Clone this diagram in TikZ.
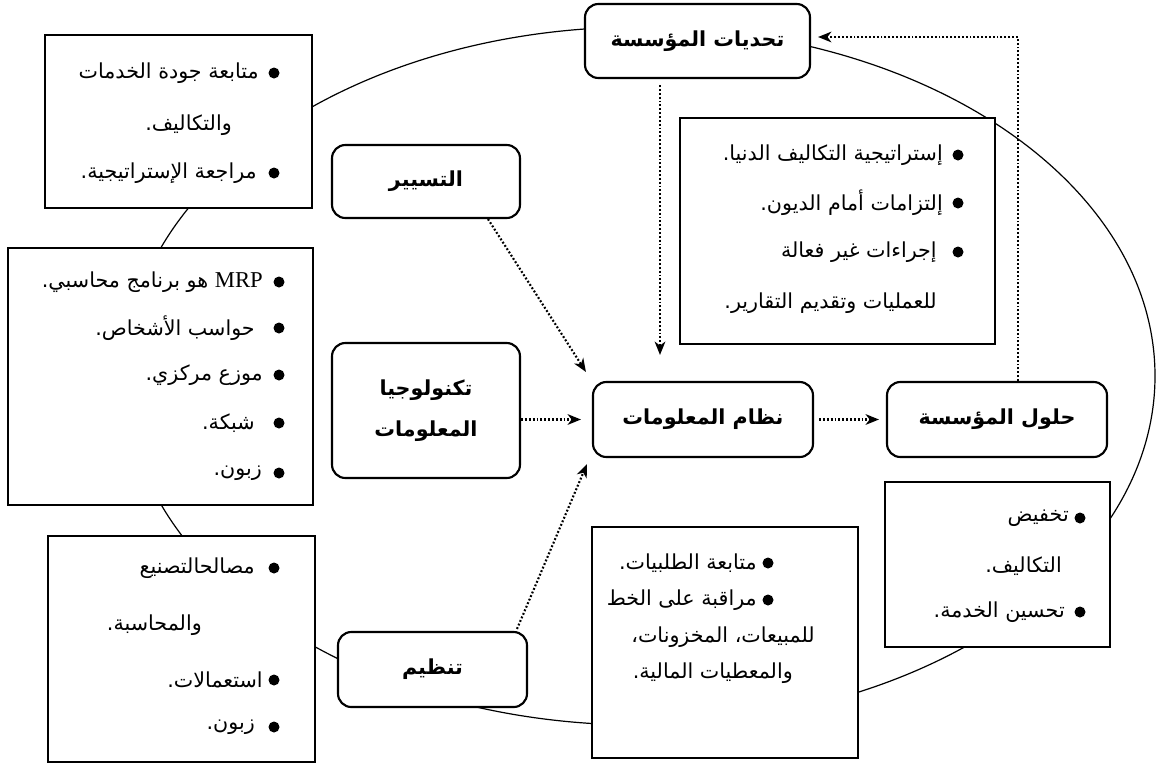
\documentclass[tikz,border=0pt]{standalone}
\usepackage{fontspec}
\usetikzlibrary{arrows.meta,calc}
\TeXXeTstate=1
\newfontfamily\arabicfont[Script=Arabic]{DejaVu Sans}
\newfontfamily\latinserif{Liberation Serif}
\newcommand\ar[1]{\beginR #1\endR}

\begin{document}
\begin{tikzpicture}[x=0.75pt,y=-0.75pt,
  boxsize/.style 2 args={minimum width=#1*0.75pt, minimum height=#2*0.75pt},
  frame/.style={draw, line width=0.9pt, fill=white, inner sep=0pt},
  head/.style={draw, line width=1.6pt, fill=white, rounded corners=10pt,
    inner sep=0pt, align=center,
    font=\arabicfont\bfseries\fontsize{15.5}{31}\selectfont},
  item/.style={inner sep=0pt, anchor=east,
    font=\arabicfont\fontsize{15.5}{18}\selectfont},
  flow/.style={line width=1.6pt, dash pattern=on 1.4pt off 1.5pt,
    -{Stealth[length=10pt,width=8pt,inset=3pt]}},
  dot/.style={fill=black},
]
\useasboundingbox (0,0) rectangle (1157,765);

% the cycle that links the parts of the organisation
\draw[line width=0.9pt] (640,376) ellipse [x radius=515, y radius=349];

% list boxes
\node[frame, boxsize={267}{173}] (b1) at (178.5,121.5) {};
\node[frame, boxsize={305}{257}] (b2) at (160.5,376.5) {};
\node[frame, boxsize={267}{226}] (b3) at (181.5,649) {};
\node[frame, boxsize={315}{226}] (b6) at (837.5,231) {};
\node[frame, boxsize={225}{165}] (b4) at (997.5,564.5) {};
\node[frame, boxsize={266}{231}] (b5) at (725,642.5) {};

% main blocks
\node[head, boxsize={225}{74}]  (tahdiyat) at (697.5,41)  {\ar{تحديات المؤسسة}};
\node[head, boxsize={188}{73}]  (tasyir)   at (426,181.5) {\ar{التسيير}};
\node[head, boxsize={188}{135}] (tech)     at (426,410.5) {\ar{تكنولوجيا}\\\ar{المعلومات}};
\node[head, boxsize={220}{75}]  (nizam)    at (703,419.5) {\ar{نظام المعلومات}};
\node[head, boxsize={220}{75}]  (hulul)    at (997,419.5) {\ar{حلول المؤسسة}};
\node[head, boxsize={189}{75}]  (tanzim)   at (432.5,669.5) {\ar{تنظيم}};

% box 1
\node[item] (b1a) at (259,73)  {\ar{متابعة جودة الخدمات}};
\node[item] (b1b) at (232,125) {\ar{والتكاليف.}};
\node[item] (b1c) at (257,173) {\ar{مراجعة الإستراتيجية.}};
\fill[dot] (274,73) circle (5.5);
\fill[dot] (274,173) circle (5.5);

% box 2
\node[item] (b2a) at (263,282) {\ar{\beginL{\latinserif\fontsize{17}{18}\selectfont MRP}\endL{} هو برنامج محاسبي.}};
\node[item] (b2b) at (255,328) {\ar{حواسب الأشخاص.}};
\node[item] (b2c) at (263,375) {\ar{موزع مركزي.}};
\node[item] (b2d) at (255,423) {\ar{شبكة.}};
\node[item] (b2e) at (262,473) {\ar{زبون.}};
\foreach \yy in {282,328,375,423,473} \fill[dot] (279,\yy) circle (5.5);

% box 3
\node[item] (b3a) at (255,568) {\ar{مصالحالتصنيع}};
\node[item] (b3b) at (202,625) {\ar{والمحاسبة.}};
\node[item] (b3c) at (263,680) {\ar{استعمالات.}};
\node[item] (b3d) at (255,727) {\ar{زبون.}};
\foreach \yy in {568,680,727} \fill[dot] (274,\yy) circle (5.5);

% box 6
\node[item] (b6a) at (943,155) {\ar{إستراتيجية التكاليف الدنيا.}};
\node[item] (b6b) at (943,203) {\ar{إلتزامات أمام الديون.}};
\node[item] (b6c) at (937,252) {\ar{إجراءات غير فعالة}};
\node[item] (b6d) at (937,303) {\ar{للعمليات وتقديم التقارير.}};
\foreach \yy in {155,203,252} \fill[dot] (958,\yy) circle (5.5);

% box 4
\node[item] (b4a) at (1069,518) {\ar{تخفيض}};
\node[item] (b4b) at (1062,566) {\ar{التكاليف.}};
\node[item] (b4c) at (1065,612) {\ar{تحسين الخدمة.}};
\foreach \yy in {518,612} \fill[dot] (1080,\yy) circle (5.5);

% box 5
\node[item] (b5a) at (757,563) {\ar{متابعة الطلبيات.}};
\node[item] (b5b) at (757,600) {\ar{مراقبة على الخط}};
\node[item] (b5c) at (815,637) {\ar{للمبيعات، المخزونات،}};
\node[item] (b5d) at (793,673) {\ar{والمعطيات المالية.}};
\foreach \yy in {563,600} \fill[dot] (768,\yy) circle (5.5);

% flows into and out of the information system
\draw[flow] ($(tasyir.south)+(62,0)$) -- ($(nizam.north west)+(-6,-9)$);
\draw[flow] (tech.east |- nizam.west) -- ($(nizam.west)+(-11,0)$);
\draw[flow] ($(tanzim.north)+(84.5,-2)$) -- ($(nizam.south west)+(-5,6)$);
\draw[flow] ($(tahdiyat.south)+(-37.5,6)$) -- ($(nizam.north)+(-43,-26)$);
\draw[flow] ($(nizam.east)+(5,0)$) -- ($(hulul.west)+(-7,0)$);
\draw[flow] ($(hulul.north)+(21,0)$) |- ($(tahdiyat.east)+(7,-4)$);
\end{tikzpicture}
\end{document}
